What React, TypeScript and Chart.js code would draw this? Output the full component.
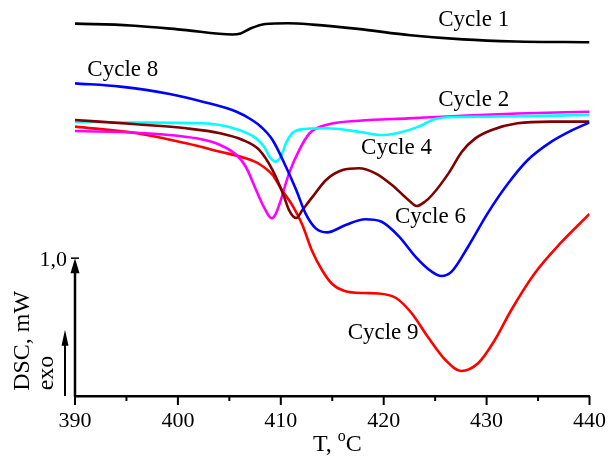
import { useEffect, useRef } from "react";
import { Chart, registerables } from "chart.js";

Chart.register(...registerables);

// Axis ticks
const tempMajorTicks = [390, 400, 410, 420, 430, 440];
const tempMinorTicks = [395, 405, 415, 425, 435];
const scaleBarValue = 1.0;
const scaleBarLabel = "1,0";

// Series (T in °C, DSC in mW)
const cycle1T = [390.0, 395.4, 400.5, 405.3, 406.1, 407.1, 408.5, 410.7, 413.1, 417.5, 422.6, 427.7, 432.8, 440];
const cycle1V = [2.701, 2.688, 2.656, 2.622, 2.63, 2.668, 2.699, 2.704, 2.694, 2.663, 2.617, 2.587, 2.572, 2.566];

const cycle8T = [390, 394.4, 399.2, 402.4, 405.7, 407.2, 408.1, 409.2, 410.5, 411.5, 412.4, 413.4, 414.5, 416.3, 418.2, 419.8, 421.5, 423.1, 424.7, 425.6, 426.6, 428.2, 430.1, 432.1, 434.0, 436.3, 438.2, 440];
const cycle8V = [2.268, 2.244, 2.191, 2.135, 2.062, 2.002, 1.951, 1.857, 1.663, 1.494, 1.325, 1.216, 1.187, 1.24, 1.282, 1.264, 1.156, 1.01, 0.9, 0.87, 0.902, 1.083, 1.325, 1.543, 1.712, 1.845, 1.924, 1.985];

const cycle6T = [390, 396.0, 400.8, 404.1, 406.3, 407.9, 409.2, 410.2, 410.8, 411.5, 412.1, 413.1, 414.4, 416.0, 417.6, 419.2, 420.8, 422.4, 423.2, 424.0, 424.7, 426.3, 427.6, 428.9, 430.5, 433.0, 436.3, 440];
const cycle6V = [2.002, 1.971, 1.942, 1.906, 1.857, 1.785, 1.639, 1.47, 1.349, 1.291, 1.349, 1.446, 1.567, 1.639, 1.652, 1.615, 1.531, 1.422, 1.378, 1.409, 1.458, 1.615, 1.772, 1.869, 1.93, 1.978, 1.99, 1.99];

const cycle4T = [390, 396.0, 402.4, 405.7, 407.6, 408.4, 408.9, 409.5, 410.0, 410.5, 411.1, 412.1, 414.4, 417.6, 419.8, 421.5, 423.4, 425.0, 427.2, 429.8, 440];
const cycle4V = [1.99, 1.983, 1.978, 1.935, 1.869, 1.806, 1.736, 1.7, 1.736, 1.833, 1.906, 1.935, 1.942, 1.917, 1.893, 1.91, 1.954, 2.009, 2.024, 2.026, 2.038];

const cycle2T = [390, 396.0, 401.8, 404.1, 405.7, 406.6, 407.6, 408.4, 409.1, 409.5, 409.9, 410.8, 411.8, 412.8, 414.4, 417.6, 422.4, 427.2, 433.0, 440];
const cycle2V = [1.922, 1.91, 1.869, 1.821, 1.748, 1.663, 1.494, 1.364, 1.289, 1.32, 1.398, 1.615, 1.785, 1.906, 1.966, 1.997, 2.014, 2.031, 2.049, 2.062];

const cycle9T = [390, 396.0, 400.8, 404.1, 406.6, 407.9, 409.2, 410.1, 411.1, 412.1, 413.0, 414.0, 415.0, 416.2, 418.1, 419.5, 421.2, 422.7, 424.3, 426.0, 427.5, 429.2, 430.8, 432.4, 434.7, 437.2, 440];
const cycle9V = [1.954, 1.906, 1.833, 1.772, 1.724, 1.683, 1.603, 1.494, 1.386, 1.24, 1.059, 0.914, 0.812, 0.762, 0.747, 0.744, 0.711, 0.602, 0.428, 0.261, 0.181, 0.239, 0.406, 0.624, 0.892, 1.11, 1.32];

// Curve labels (left edge T, vertical centre in mW)
const labelNames = ["Cycle 1", "Cycle 8", "Cycle 2", "Cycle 4", "Cycle 6", "Cycle 9"];
const labelT = [425.3, 391.2, 425.3, 417.8, 421.1, 416.5];
const labelV = [2.727, 2.365, 2.147, 1.799, 1.298, 0.457];

const seriesNames = ["Cycle 1", "Cycle 8", "Cycle 6", "Cycle 4", "Cycle 2", "Cycle 9"];
const seriesT = [cycle1T, cycle8T, cycle6T, cycle4T, cycle2T, cycle9T];
const seriesV = [cycle1V, cycle8V, cycle6V, cycle4V, cycle2V, cycle9V];
const seriesColors = ["#000000", "#0000ff", "#7f0000", "#00ffff", "#ff00ff", "#ff0000"];

const SERIF = '"Liberation Serif", "Times New Roman", serif';

const decorPlugin = {
  id: "dscDecor",
  afterDraw(chart: any) {
    const { ctx, chartArea, scales } = chart;
    const xs = scales.x;
    const ys = scales.y;
    const bottom = chartArea.bottom;
    ctx.save();
    ctx.strokeStyle = "#000";
    ctx.fillStyle = "#000";
    ctx.lineCap = "butt";

    // x tick marks
    ctx.lineWidth = 2;
    tempMajorTicks.forEach((t) => {
      const px = xs.getPixelForValue(t);
      ctx.beginPath();
      ctx.moveTo(px, bottom);
      ctx.lineTo(px, bottom + 9);
      ctx.stroke();
    });
    tempMinorTicks.forEach((t) => {
      const px = xs.getPixelForValue(t);
      ctx.beginPath();
      ctx.moveTo(px, bottom);
      ctx.lineTo(px, bottom + 5);
      ctx.stroke();
    });

    // y scale bar with arrow
    const x0 = chartArea.left;
    const y0 = ys.getPixelForValue(0);
    const y1 = ys.getPixelForValue(scaleBarValue);
    ctx.lineWidth = 2.5;
    ctx.beginPath();
    ctx.moveTo(x0, y0 + 1);
    ctx.lineTo(x0, y1 + 10);
    ctx.stroke();
    ctx.beginPath();
    ctx.moveTo(x0, y1);
    ctx.lineTo(x0 - 4.5, y1 + 15);
    ctx.lineTo(x0 + 4.5, y1 + 15);
    ctx.closePath();
    ctx.fill();
    ctx.lineWidth = 1.5;
    ctx.beginPath();
    ctx.moveTo(x0 - 4, y1);
    ctx.lineTo(x0 + 4, y1);
    ctx.stroke();

    ctx.font = "22px " + SERIF;
    ctx.textAlign = "right";
    ctx.textBaseline = "middle";
    ctx.fillText(scaleBarLabel, x0 - 8, y1 + 2);

    // exo arrow
    const ax = x0 - 10;
    const tipY = ys.getPixelForValue(0.48);
    ctx.lineWidth = 2;
    ctx.beginPath();
    ctx.moveTo(ax, y0);
    ctx.lineTo(ax, tipY + 10);
    ctx.stroke();
    ctx.beginPath();
    ctx.moveTo(ax, tipY);
    ctx.lineTo(ax - 3.5, tipY + 16);
    ctx.lineTo(ax + 3.5, tipY + 16);
    ctx.closePath();
    ctx.fill();

    // rotated y titles
    ctx.font = "24px " + SERIF;
    ctx.textAlign = "center";
    ctx.textBaseline = "alphabetic";
    ctx.save();
    ctx.translate(29, ys.getPixelForValue(0.4));
    ctx.rotate(-Math.PI / 2);
    ctx.fillText("DSC, mW", 0, 0);
    ctx.restore();
    ctx.save();
    ctx.translate(53, ys.getPixelForValue(0.167));
    ctx.rotate(-Math.PI / 2);
    ctx.fillText("exo", 0, 0);
    ctx.restore();

    // x title with superscript
    const cx = xs.getPixelForValue(415.5);
    const base = bottom + 55;
    ctx.textAlign = "left";
    ctx.font = "24px " + SERIF;
    const part1 = "T, ";
    const w1 = ctx.measureText(part1).width;
    ctx.font = "16px " + SERIF;
    const wo = ctx.measureText("o").width;
    ctx.font = "24px " + SERIF;
    const wc = ctx.measureText("C").width;
    let sx = cx - (w1 + wo + wc) / 2;
    ctx.fillText(part1, sx, base);
    sx += w1;
    ctx.font = "16px " + SERIF;
    ctx.fillText("o", sx, base - 10);
    sx += wo;
    ctx.font = "24px " + SERIF;
    ctx.fillText("C", sx, base);

    // curve labels
    ctx.font = "23px " + SERIF;
    ctx.textAlign = "left";
    ctx.textBaseline = "middle";
    labelNames.forEach((name, i) => {
      ctx.fillText(name, xs.getPixelForValue(labelT[i]), ys.getPixelForValue(labelV[i]));
    });
    ctx.restore();
  },
};

export default function App() {
  const canvasRef = useRef<HTMLCanvasElement | null>(null);

  useEffect(() => {
    const canvas = canvasRef.current;
    if (!canvas) return;
    const datasets = seriesNames.map((name, i) => ({
      label: name,
      data: seriesT[i].map((t, j) => ({ x: t, y: seriesV[i][j] })),
      borderColor: seriesColors[i],
      backgroundColor: seriesColors[i],
      borderWidth: 2.6,
      pointRadius: 0,
      fill: false,
      cubicInterpolationMode: "monotone" as const,
    }));
    const chart = new Chart(canvas, {
      type: "line",
      data: { datasets },
      options: {
        responsive: false,
        animation: false,
        layout: { padding: { left: 75, right: 18, top: 10, bottom: 0 } },
        plugins: { legend: { display: false }, tooltip: { enabled: false } },
        scales: {
          x: {
            type: "linear",
            min: 390,
            max: 440,
            grid: { display: false },
            border: { display: true, color: "#000", width: 2.5 },
            ticks: {
              stepSize: 10,
              autoSkip: false,
              maxRotation: 0,
              color: "#000",
              padding: 4,
              font: { family: SERIF, size: 22 },
            },
            afterFit: (s: any) => {
              s.height = 60;
            },
          },
          y: {
            display: false,
            min: 0,
            max: 2.8,
          },
        },
      },
      plugins: [decorPlugin],
    });
    return () => chart.destroy();
  }, []);

  return (
    <div style={{ position: "absolute", left: 0, top: 0, width: 610, height: 456, background: "#fff" }}>
      <canvas ref={canvasRef} width={610} height={456} style={{ display: "block" }} />
    </div>
  );
}
